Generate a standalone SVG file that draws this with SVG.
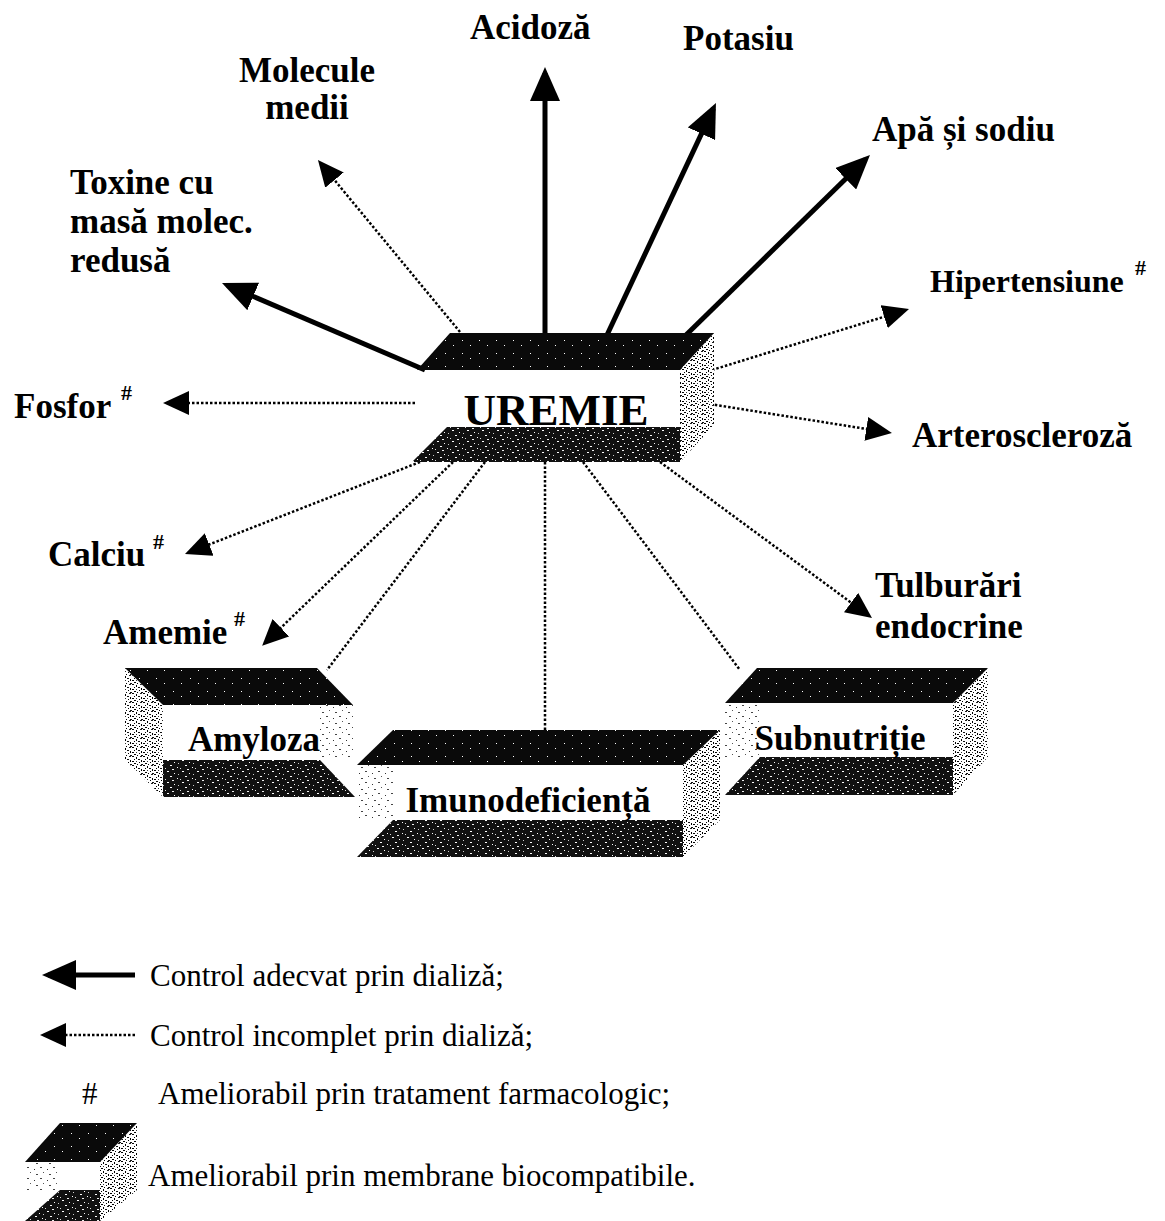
<svg xmlns="http://www.w3.org/2000/svg" width="1165" height="1221" viewBox="0 0 1165 1221">
<style>
.lb{font-family:"Liberation Serif","Times New Roman",serif;font-weight:bold;font-size:35px;fill:#000}
.sup{font-family:"Liberation Serif","Times New Roman",serif;font-weight:bold;font-size:22px;fill:#000}
.lg{font-family:"Liberation Serif","Times New Roman",serif;font-size:31px;fill:#000}
.solid{stroke:#000;stroke-width:5;fill:none;marker-end:url(#hs)}
.dot{stroke:#000;stroke-width:2.5;stroke-dasharray:2.5 2;fill:none}
.dota{stroke:#000;stroke-width:2.5;stroke-dasharray:2.5 2;fill:none;marker-end:url(#hd)}
.top{fill:url(#pdk)}
.bot{fill:url(#pmd)}
.side{fill:url(#plt)}
.faint{fill:url(#pfl)}
</style>
<defs>
<pattern id="pdk" width="17" height="13" patternUnits="userSpaceOnUse">
<rect width="17" height="13" fill="#0a0a0a"/>
<rect x="3" y="2" width="1" height="1" fill="#fff"/>
<rect x="11" y="7" width="1" height="1" fill="#fff"/>
</pattern>
<pattern id="pmd" width="15" height="11" patternUnits="userSpaceOnUse">
<rect width="15" height="11" fill="#111"/>
<rect x="2" y="1" width="2" height="1" fill="#fff"/>
<rect x="9" y="3" width="1" height="1" fill="#fff"/>
<rect x="5" y="6" width="2" height="1" fill="#fff"/>
<rect x="12" y="8" width="1" height="1" fill="#fff"/>
<rect x="0" y="9" width="1" height="1" fill="#ddd"/>
<rect x="7" y="10" width="2" height="1" fill="#eee"/>
<rect x="13" y="4" width="1" height="1" fill="#ccc"/>
</pattern>
<pattern id="plt" width="11" height="9" patternUnits="userSpaceOnUse">
<rect width="11" height="9" fill="#fff"/>
<rect x="0" y="0" width="2" height="1" fill="#000"/>
<rect x="4" y="1" width="1" height="2" fill="#000"/>
<rect x="8" y="0" width="2" height="1" fill="#222"/>
<rect x="2" y="3" width="1" height="1" fill="#000"/>
<rect x="6" y="3" width="2" height="1" fill="#111"/>
<rect x="9" y="4" width="1" height="2" fill="#000"/>
<rect x="0" y="5" width="2" height="1" fill="#000"/>
<rect x="4" y="5" width="1" height="1" fill="#333"/>
<rect x="7" y="6" width="1" height="1" fill="#000"/>
<rect x="2" y="7" width="2" height="1" fill="#000"/>
<rect x="5" y="8" width="1" height="1" fill="#000"/>
<rect x="9" y="8" width="2" height="1" fill="#111"/>
</pattern>
<pattern id="pfl" width="13" height="11" patternUnits="userSpaceOnUse">
<rect width="13" height="11" fill="#fff"/>
<rect x="1" y="1" width="2" height="1" fill="#444"/>
<rect x="8" y="3" width="1" height="1" fill="#333"/>
<rect x="4" y="6" width="1" height="1" fill="#555"/>
<rect x="10" y="8" width="2" height="1" fill="#444"/>
</pattern>
<marker id="hs" viewBox="0 0 34 30" markerWidth="34" markerHeight="30" refX="28" refY="15" orient="auto" markerUnits="userSpaceOnUse">
<path d="M0,0 L34,15 L0,30 z" fill="#000"/>
</marker>
<marker id="hd" viewBox="0 0 26 24" markerWidth="26" markerHeight="24" refX="22" refY="12" orient="auto" markerUnits="userSpaceOnUse">
<path d="M0,0 L26,12 L0,24 z" fill="#000"/>
</marker>
</defs>
<rect width="1165" height="1221" fill="#fff"/>

<g id="connectors">
<line class="solid" x1="425" y1="370" x2="227.5" y2="285.4"/>
<line class="solid" x1="545" y1="335" x2="545" y2="73"/>
<line class="solid" x1="607" y1="335" x2="713.4" y2="108.4"/>
<line class="solid" x1="686" y1="335" x2="865.7" y2="159.2"/>
<line class="dota" x1="460" y1="332" x2="320.5" y2="163.1"/>
<line class="dota" x1="712" y1="370" x2="905.2" y2="310.2"/>
<line class="dota" x1="697" y1="402" x2="888" y2="432.4"/>
<line class="dota" x1="415" y1="403" x2="167" y2="403"/>
<line class="dota" x1="420" y1="462" x2="188.7" y2="552.5"/>
<line class="dota" x1="453" y1="462" x2="265" y2="643"/>
<line class="dota" x1="660" y1="462" x2="868.8" y2="615.6"/>
<line class="dot" x1="485" y1="462" x2="327" y2="670"/>
<line class="dot" x1="545" y1="462" x2="545" y2="730"/>
<line class="dot" x1="583" y1="462" x2="740" y2="670"/>
</g>

<g id="uremie">
<polygon class="side" points="680,370 714,333 714,425 680,462"/>
<polygon class="bot" points="447,427 680,427 680,462 412,462"/>
<polygon class="top" points="450,333 714,333 680,370 417,370"/>
<text class="lb" x="556" y="425" text-anchor="middle" style="font-size:45px">UREMIE</text>
</g>

<g id="amyloza">
<polygon class="faint" points="320,705 353,705 353,760 320,760"/>
<polygon class="side" points="125,668 163,705 163,797 125,760"/>
<polygon class="bot" points="163,760 320,760 355,797 163,797"/>
<polygon class="top" points="125,668 317,668 353,705 163,705"/>
<text class="lb" x="254" y="751" text-anchor="middle">Amyloza</text>
</g>

<g id="imunodeficienta">
<polygon class="faint" points="357,765 393,765 393,820 357,820"/>
<polygon class="side" points="683,765 720,730 720,820 683,857"/>
<polygon class="bot" points="393,820 683,820 683,857 357,857"/>
<polygon class="top" points="393,730 720,730 683,765 357,765"/>
<text class="lb" x="528" y="812" text-anchor="middle">Imunodeficiență</text>
</g>

<g id="subnutritie">
<polygon class="faint" points="725,703 760,703 760,757 725,757"/>
<polygon class="side" points="953,703 988,668 988,757 953,795"/>
<polygon class="bot" points="760,757 953,757 953,795 725,795"/>
<polygon class="top" points="757,668 988,668 953,703 725,703"/>
<text class="lb" x="840" y="750" text-anchor="middle">Subnutriție</text>
</g>

<g id="labels">
<text class="lb" x="470" y="39">Acidoză</text>
<text class="lb" x="683" y="50">Potasiu</text>
<text class="lb" x="307" y="82" text-anchor="middle">Molecule</text>
<text class="lb" x="307" y="119" text-anchor="middle">medii</text>
<text class="lb" x="872" y="141">Apă și sodiu</text>
<text class="lb" x="70" y="194">Toxine cu</text>
<text class="lb" x="70" y="233">masă molec.</text>
<text class="lb" x="70" y="272">redusă</text>
<text class="lb" x="930" y="292" style="font-size:32px">Hipertensiune</text>
<text class="sup" x="1135" y="275">#</text>
<text class="lb" x="14" y="418">Fosfor</text>
<text class="sup" x="121" y="400">#</text>
<text class="lb" x="912" y="447">Arteroscleroză</text>
<text class="lb" x="48" y="566">Calciu</text>
<text class="sup" x="153" y="549">#</text>
<text class="lb" x="875" y="597">Tulburări</text>
<text class="lb" x="875" y="638">endocrine</text>
<text class="lb" x="103" y="644">Amemie</text>
<text class="sup" x="234" y="626">#</text>
</g>

<g id="legend">
<line class="solid" x1="135" y1="975" x2="48" y2="975"/>
<text class="lg" x="150" y="986">Control adecvat prin dializǎ;</text>
<line class="dota" x1="135" y1="1035" x2="44" y2="1035"/>
<text class="lg" x="150" y="1046">Control incomplet prin dializǎ;</text>
<text class="lg" x="82" y="1104">#</text>
<text class="lg" x="158" y="1104">Ameliorabil prin tratament farmacologic;</text>
<g id="legend-box">
<polygon class="faint" points="25,1162 60,1162 60,1190 25,1190"/>
<polygon class="side" points="100,1162 137,1123 137,1190 100,1221"/>
<polygon class="bot" points="60,1190 100,1190 100,1221 25,1221"/>
<polygon class="top" points="60,1123 137,1123 100,1162 25,1162"/>
</g>
<text class="lg" x="148" y="1186">Ameliorabil prin membrane biocompatibile.</text>
</g>
</svg>
